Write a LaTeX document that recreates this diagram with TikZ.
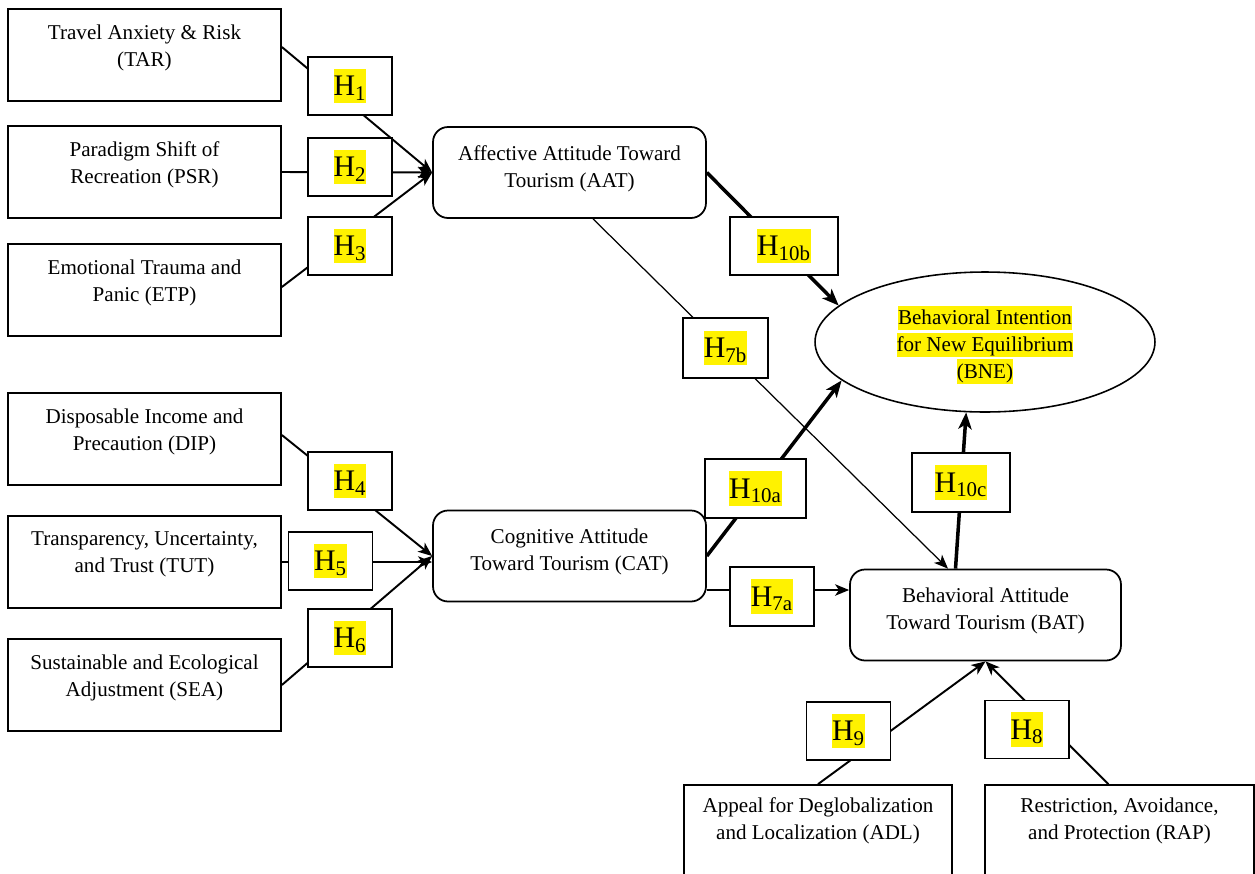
\documentclass[tikz,border=0pt]{standalone}
\usepackage{fontspec}
\setmainfont{Liberation Serif}
\usetikzlibrary{arrows.meta,shapes.geometric,calc}
\newcommand{\hlite}[1]{{\setlength{\fboxsep}{0pt}\colorbox{yellow}{\rule[-0.25em]{0pt}{1.15em}#1}}}
\tikzset{
  factor/.style={
    draw,
    line width=1pt,
    minimum width=5.46cm,
    minimum height=1.84cm,
    align=center,
    inner sep=0pt,
    text depth=11pt,
    font=\fontsize{12}{15.3}\selectfont
  },
  attitude/.style={factor, rounded corners=8.5pt, minimum height=1.82cm, text depth=7pt},
  outcome/.style={ellipse, draw, line width=0.9pt, minimum width=6.8cm, minimum height=2.8cm,
    inner sep=0pt, align=center, text depth=0pt, font=\fontsize{12}{15.3}\selectfont},
  hyp/.style={draw, fill=white, line width=0.8pt, minimum width=1.68cm, minimum height=1.16cm,
    inner sep=0pt, font=\fontsize{17}{20}\selectfont},
  link/.style={-{Stealth[length=8pt,width=6.5pt,inset=2.2pt]}, line width=1.1pt},
  strong/.style={-{Stealth[length=9.5pt,width=7.5pt,inset=2.5pt]}, line width=2pt},
  weak/.style={link, line width=0.7pt}
}

\begin{document}
\begin{tikzpicture}[x=0.02cm,y=-0.02cm]
  \useasboundingbox (0,0) rectangle (1255,873);

  % Antecedents of the affective attitude.
  \node[factor] (TAR) at (144.5,55) {Travel Anxiety \& Risk\\(TAR)};
  \node[factor] (PSR) at (144.5,172) {Paradigm Shift of\\Recreation (PSR)};
  \node[factor] (ETP) at (144.5,290) {Emotional Trauma and\\Panic (ETP)};

  % Antecedents of the cognitive attitude.
  \node[factor] (DIP) at (144.5,439) {Disposable Income and\\Precaution (DIP)};
  \node[factor] (TUT) at (144.5,562) {Transparency, Uncertainty,\\and Trust (TUT)};
  \node[factor] (SEA) at (144.5,685) {Sustainable and Ecological\\Adjustment (SEA)};

  % Antecedents of the behavioral attitude.
  \node[factor, minimum width=5.36cm, text depth=14.4pt] (ADL) at (818,831) {Appeal for Deglobalization\\and Localization (ADL)};
  \node[factor, minimum width=5.38cm, text depth=14.4pt] (RAP) at (1119.5,831) {Restriction, Avoidance,\\and Protection (RAP)};

  % Attitudes and intention.
  \node[attitude] (AAT) at (569.5,172.5) {Affective Attitude Toward\\Tourism (AAT)};
  \node[attitude] (CAT) at (569.5,556) {Cognitive Attitude\\Toward Tourism (CAT)};
  \node[attitude, minimum width=5.42cm] (BAT) at (985.5,615) {Behavioral Attitude\\Toward Tourism (BAT)};
  \node[outcome] (BNE) at (985,342)
    {\hlite{Behavioral Intention}\\\hlite{for New Equilibrium}\\\hlite{(BNE)}};

  % Paths.
  \draw[link] ($(TAR.east)+(0,-8)$) -- (AAT.west);
  \draw[link] (PSR.east) -- (AAT.west);
  \draw[link] ($(ETP.east)+(0,-3)$) -- (AAT.west);
  \draw[link] ($(DIP.east)+(0,-4)$) -- (CAT.west);
  \draw[link] (TUT.east) -- (TUT.east -| CAT.west);
  \draw[link] (SEA.east) -- (CAT.west);

  \draw[strong] (AAT.east) -- (BNE.166);
  \draw[strong] (CAT.east) -- (BNE.195);
  \draw[strong] ($(BAT.north)+(-30,0)$) -- (BNE.255);
  \draw[weak] ($(AAT.south)+(23.5,0)$) -- ($(BAT.north)+(-37.5,0)$);
  \coordinate (catout) at ($(CAT.east)+(0,34)$);
  \draw[link] (catout) -- (catout -| BAT.west);

  \draw[link] (ADL.north) -- (BAT.south);
  \draw[link] ($(RAP.north)+(-11,0)$) -- (BAT.south);

  % Hypothesis labels.
  \node[hyp] (H1) at (350,86) {\hlite{H\textsubscript{1}}};
  \node[hyp] (H2) at (350,167) {\hlite{H\textsubscript{2}}};
  \node[hyp] (H3) at (350,246) {\hlite{H\textsubscript{3}}};
  \node[hyp] (H4) at (350,481) {\hlite{H\textsubscript{4}}};
  \node[hyp] (H5) at (330.5,561) {\hlite{H\textsubscript{5}}};
  \node[hyp] (H6) at (350,638) {\hlite{H\textsubscript{6}}};
  \node[hyp, minimum width=2.16cm] (H10b) at (784,246) {\hlite{H\textsubscript{10b}}};
  \node[hyp, minimum width=1.7cm, minimum height=1.2cm] (H7b) at (725.5,348) {\hlite{H\textsubscript{7b}}};
  \node[hyp, minimum width=2.02cm, minimum height=1.18cm] (H10a) at (755.5,488.5) {\hlite{H\textsubscript{10a}}};
  \node[hyp, minimum width=1.96cm, minimum height=1.18cm] (H10c) at (961,482.5) {\hlite{H\textsubscript{10c}}};
  \node[hyp, minimum height=1.18cm] (H7a) at (772,596.5) {\hlite{H\textsubscript{7a}}};
  \node[hyp] (H9) at (848.5,731) {\hlite{H\textsubscript{9}}};
  \node[hyp] (H8) at (1027,729.5) {\hlite{H\textsubscript{8}}};

\end{tikzpicture}
\end{document}
